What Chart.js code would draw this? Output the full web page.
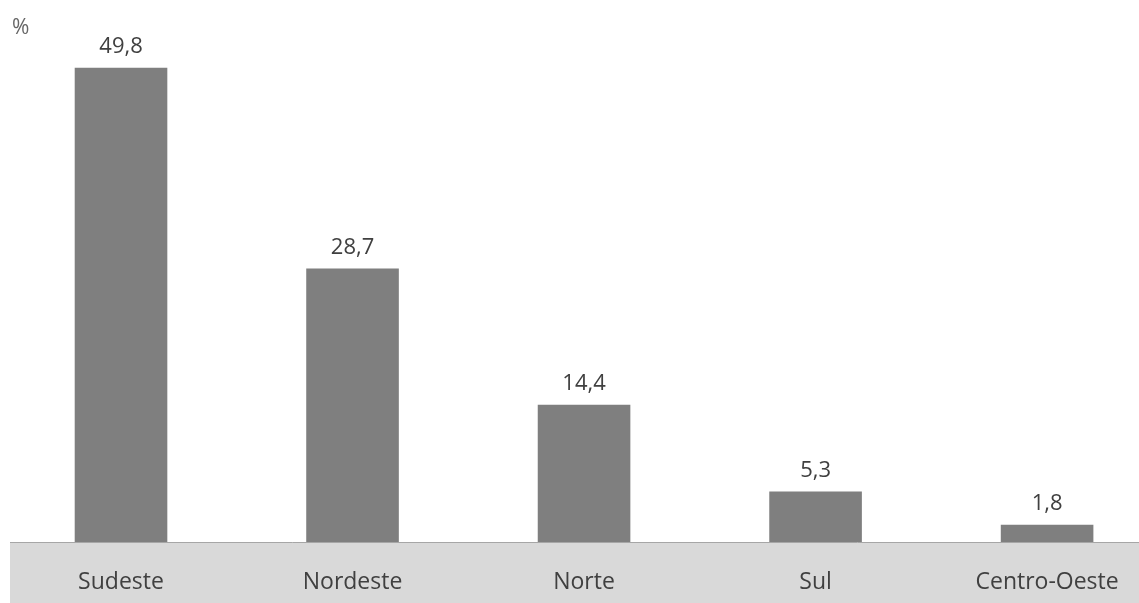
<!DOCTYPE html>
<html>
<head>
<meta charset="utf-8">
<script src="https://cdn.jsdelivr.net/npm/chart.js@4"></script>
<style>
html,body{margin:0;padding:0;background:#fff;}
#wrap{width:1139px;height:603px;position:relative;}
</style>
</head>
<body>
<div id="wrap"><canvas id="c"></canvas></div>
<script>
const categories = ['Sudeste', 'Nordeste', 'Norte', 'Sul', 'Centro-Oeste'];
const values = [49.8, 28.7, 14.4, 5.3, 1.8];
const unitLabel = '%';

const FONT = '"Open Sans", "Liberation Sans", sans-serif';
const fmt = v => v.toFixed(1).replace('.', ',');

const decor = {
  id: 'decor',
  beforeDraw(chart) {
    const {ctx, chartArea, width, height} = chart;
    ctx.save();
    ctx.fillStyle = '#d9d9d9';
    ctx.fillRect(10, chartArea.bottom, width - 10, height - chartArea.bottom);
    ctx.restore();
  },
  afterDatasetsDraw(chart) {
    const {ctx} = chart;
    ctx.save();
    ctx.font = '22px ' + FONT;
    ctx.fillStyle = '#404040';
    ctx.textAlign = 'center';
    ctx.textBaseline = 'alphabetic';
    chart.getDatasetMeta(0).data.forEach((bar, i) => {
      ctx.fillText(fmt(values[i]), bar.x, bar.y - 15);
    });
    ctx.textAlign = 'left';
    ctx.textBaseline = 'alphabetic';
    ctx.font = '21px ' + FONT;
    ctx.fillStyle = '#666666';
    ctx.fillText(unitLabel, 12, 34);
    ctx.restore();
  }
};

new Chart(document.getElementById('c'), {
  type: 'bar',
  data: {
    datasets: [{
      data: values.map((v, i) => ({x: i, y: v})),
      backgroundColor: '#7f7f7f',
      borderWidth: 0,
      barPercentage: 0.4,
      categoryPercentage: 1
    }]
  },
  options: {
    responsive: true,
    maintainAspectRatio: false,
    animation: false,
    layout: {padding: {left: 10, top: 20, right: 0, bottom: 0}},
    plugins: {legend: {display: false}, tooltip: {enabled: false}},
    scales: {
      x: {
        type: 'linear',
        offset: false,
        min: -0.4795,
        max: 4.397,
        afterBuildTicks(scale) { scale.ticks = categories.map((c, i) => ({value: i})); },
        afterFit(scale) {
          scale.height = 61;
          scale.paddingLeft = 0;
          scale.paddingRight = 0;
        },
        grid: {display: false, drawTicks: false, offset: false},
        border: {display: true, color: '#a6a6a6', width: 1},
        ticks: {
          autoSkip: false,
          maxRotation: 0,
          padding: 27,
          color: '#404040',
          font: {family: FONT, size: 23},
          callback: (v) => categories[v] ?? ''
        }
      },
      y: {
        display: false,
        min: 0,
        max: 54.8
      }
    }
  },
  plugins: [decor]
});
</script>
</body>
</html>
